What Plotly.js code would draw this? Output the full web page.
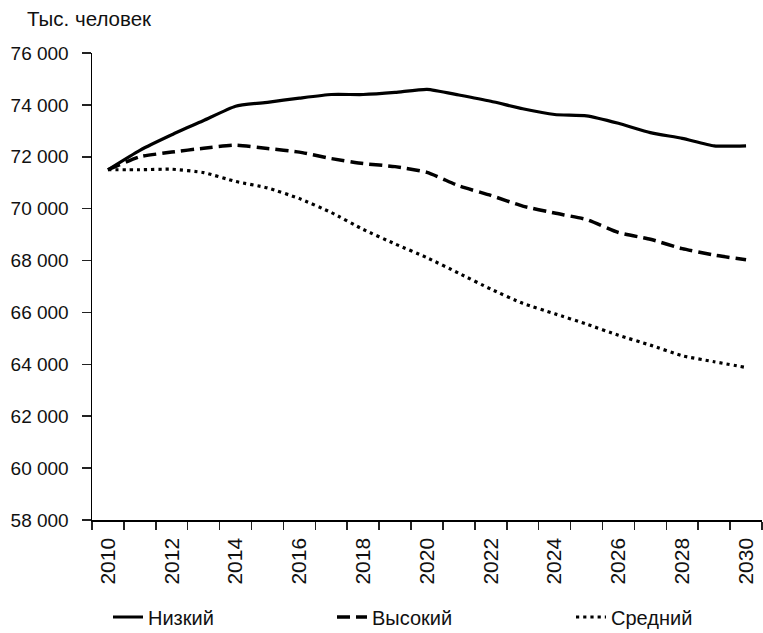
<!DOCTYPE html>
<html>
<head>
<meta charset="utf-8">
<script src="https://cdn.plot.ly/plotly-3.0.1.min.js"></script>
<style>html,body{margin:0;padding:0;background:#fff;}#chart{width:763px;height:633px;}</style>
</head>
<body>
<div id="chart"></div>
<script>
const years = ["2010","2011","2012","2013","2014","2015","2016","2017","2018","2019","2020","2021","2022","2023","2024","2025","2026","2027","2028","2029","2030"];
const xTickText = ["2010","","2012","","2014","","2016","","2018","","2020","","2022","","2024","","2026","","2028","","2030"];
const lowValues = [71500,72250,72850,73400,73950,74100,74260,74400,74400,74480,74600,74380,74140,73850,73630,73580,73290,72930,72710,72420,72420];
const highValues = [71500,72000,72180,72330,72450,72320,72180,71930,71740,71620,71400,70880,70510,70100,69830,69580,69080,68820,68460,68210,68030];
const midValues = [71500,71500,71520,71390,71050,70800,70390,69850,69200,68640,68110,67510,66900,66350,65950,65550,65120,64740,64330,64100,63880];
const yTickVals = [58000,60000,62000,64000,66000,68000,70000,72000,74000,76000];
const yTickText = ["58 000","60 000","62 000","64 000","66 000","68 000","70 000","72 000","74 000","76 000"];
const seriesNames = ["Низкий","Высокий","Средний"];

const font = "Liberation Sans, Arial, sans-serif";
const traces = [
  {x: years, y: lowValues, name: seriesNames[0], type: "scatter", mode: "lines", legend: "legend",
   line: {color: "#000", width: 3.2, shape: "spline", smoothing: 0.5}},
  {x: years, y: highValues, name: seriesNames[1], type: "scatter", mode: "lines", legend: "legend2",
   line: {color: "#000", width: 3.5, dash: "13px,6px", shape: "spline", smoothing: 0.5}},
  {x: years, y: midValues, name: seriesNames[2], type: "scatter", mode: "lines", legend: "legend3",
   line: {color: "#000", width: 3.2, dash: "3.2px,4px", shape: "spline", smoothing: 0.5}}
];

function legendAt(px) {
  return {orientation: "h", xref: "container", yref: "container", x: px/763, xanchor: "left",
          y: 1 - 617/633, yanchor: "middle",
          font: {family: font, size: 20, color: "#111"}, bgcolor: "rgba(0,0,0,0)"};
}

const layout = {
  width: 763, height: 633,
  paper_bgcolor: "#fff", plot_bgcolor: "#fff",
  margin: {l: 92, r: 1, t: 53, b: 113},
  font: {family: font, color: "#111", size: 19},
  title: {text: "Тыс. человек", xref: "container", yref: "container", x: 27/763, xanchor: "left",
          y: 1 - 19/633, yanchor: "middle", font: {family: font, size: 20.5, color: "#111"}},
  xaxis: {type: "category", range: [-0.5, 20.5], tickson: "boundaries",
          tickmode: "array", tickvals: years, ticktext: xTickText, tickangle: -90,
          ticks: "outside", ticklen: 8, tickwidth: 1.5, tickcolor: "#222", ticklabelstandoff: 8,
          showline: true, linecolor: "#000", linewidth: 1.5, showgrid: false, zeroline: false,
          tickfont: {family: font, size: 21, color: "#111"}, fixedrange: true},
  yaxis: {range: [58000, 76000], tickmode: "array", tickvals: yTickVals, ticktext: yTickText,
          ticks: "outside", ticklen: 9, tickwidth: 1.5, tickcolor: "#222", ticklabelstandoff: 9,
          showline: true, linecolor: "#000", linewidth: 1.5, showgrid: false, zeroline: false,
          tickfont: {family: font, size: 19, color: "#111"}, fixedrange: true},
  showlegend: true,
  legend: legendAt(108),
  legend2: legendAt(332),
  legend3: legendAt(571)
};

Plotly.newPlot("chart", traces, layout, {displayModeBar: false, staticPlot: true});
</script>
</body>
</html>
